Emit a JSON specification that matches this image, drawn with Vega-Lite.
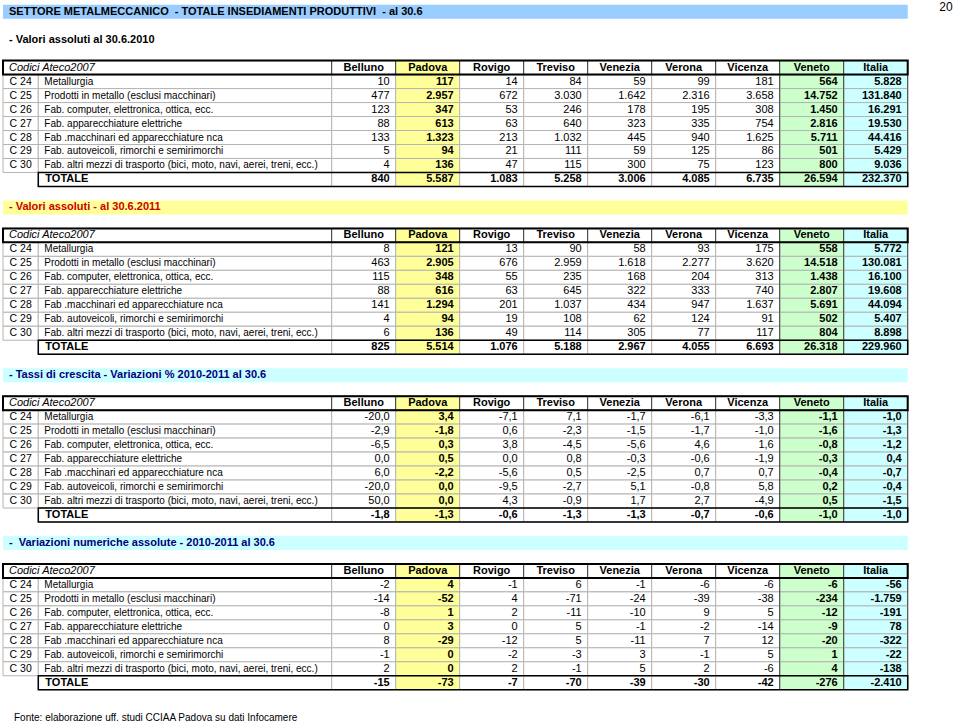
{
"$schema": "https://vega.github.io/schema/vega-lite/v6.json",
"width": 960, "height": 722,
"autosize": {"type": "none"},
"padding": 0,
"background": "#ffffff",
"config": {"font": "Liberation Sans", "view": {"stroke": null}, "locale": {"number": {"decimal": ",", "thousands": ".", "grouping": [3], "currency": ["€", ""], "minus": "-"}}},
"datasets": {
"fasce": [
{"riga": "titolo", "tipo": "titolo", "testo": "SETTORE METALMECCANICO \u00a0- TOTALE INSEDIAMENTI PRODUTTIVI \u00a0- al 30.6"},
{"riga": "s2010", "tipo": "s1", "testo": "- Valori assoluti al 30.6.2010"},
{"riga": "s2011", "tipo": "s2", "testo": "- Valori assoluti - al 30.6.2011"},
{"riga": "svarp", "tipo": "s3", "testo": "- Tassi di crescita - Variazioni % 2010-2011 al 30.6"},
{"riga": "svara", "tipo": "s3", "testo": "- \u00a0Variazioni numeriche assolute - 2010-2011 al 30.6"}
],
"note": [
{"riga": "titolo", "tipo": "pagina", "testo": "20"},
{"riga": "fonte", "tipo": "fonte", "testo": "Fonte: elaborazione uff. studi CCIAA Padova su dati Infocamere"}
],
"intestazioni": [
{"riga": "2010|H", "etichetta": "Codici Ateco2007", "colonna": ["Belluno","Padova","Rovigo","Treviso","Venezia","Verona","Vicenza","Veneto","Italia"]},
{"riga": "2011|H", "etichetta": "Codici Ateco2007", "colonna": ["Belluno","Padova","Rovigo","Treviso","Venezia","Verona","Vicenza","Veneto","Italia"]},
{"riga": "varp|H", "etichetta": "Codici Ateco2007", "colonna": ["Belluno","Padova","Rovigo","Treviso","Venezia","Verona","Vicenza","Veneto","Italia"]},
{"riga": "vara|H", "etichetta": "Codici Ateco2007", "colonna": ["Belluno","Padova","Rovigo","Treviso","Venezia","Verona","Vicenza","Veneto","Italia"]}
],
"tabelle": [
{"tabella":"2010","riga":"2010|C 24","codice":"C 24","descrizione":"Metallurgia","Belluno":10,"Padova":117,"Rovigo":14,"Treviso":84,"Venezia":59,"Verona":99,"Vicenza":181,"Veneto":564,"Italia":5828},
{"tabella":"2010","riga":"2010|C 25","codice":"C 25","descrizione":"Prodotti in metallo (esclusi macchinari)","Belluno":477,"Padova":2957,"Rovigo":672,"Treviso":3030,"Venezia":1642,"Verona":2316,"Vicenza":3658,"Veneto":14752,"Italia":131840},
{"tabella":"2010","riga":"2010|C 26","codice":"C 26","descrizione":"Fab. computer, elettronica, ottica, ecc.","Belluno":123,"Padova":347,"Rovigo":53,"Treviso":246,"Venezia":178,"Verona":195,"Vicenza":308,"Veneto":1450,"Italia":16291},
{"tabella":"2010","riga":"2010|C 27","codice":"C 27","descrizione":"Fab. apparecchiature elettriche","Belluno":88,"Padova":613,"Rovigo":63,"Treviso":640,"Venezia":323,"Verona":335,"Vicenza":754,"Veneto":2816,"Italia":19530},
{"tabella":"2010","riga":"2010|C 28","codice":"C 28","descrizione":"Fab .macchinari ed apparecchiature nca","Belluno":133,"Padova":1323,"Rovigo":213,"Treviso":1032,"Venezia":445,"Verona":940,"Vicenza":1625,"Veneto":5711,"Italia":44416},
{"tabella":"2010","riga":"2010|C 29","codice":"C 29","descrizione":"Fab. autoveicoli, rimorchi e semirimorchi","Belluno":5,"Padova":94,"Rovigo":21,"Treviso":111,"Venezia":59,"Verona":125,"Vicenza":86,"Veneto":501,"Italia":5429},
{"tabella":"2010","riga":"2010|C 30","codice":"C 30","descrizione":"Fab. altri mezzi di trasporto (bici, moto, navi, aerei, treni, ecc.)","Belluno":4,"Padova":136,"Rovigo":47,"Treviso":115,"Venezia":300,"Verona":75,"Vicenza":123,"Veneto":800,"Italia":9036},
{"tabella":"2010","riga":"2010|TOT","codice":null,"descrizione":"TOTALE","Belluno":840,"Padova":5587,"Rovigo":1083,"Treviso":5258,"Venezia":3006,"Verona":4085,"Vicenza":6735,"Veneto":26594,"Italia":232370},
{"tabella":"2011","riga":"2011|C 24","codice":"C 24","descrizione":"Metallurgia","Belluno":8,"Padova":121,"Rovigo":13,"Treviso":90,"Venezia":58,"Verona":93,"Vicenza":175,"Veneto":558,"Italia":5772},
{"tabella":"2011","riga":"2011|C 25","codice":"C 25","descrizione":"Prodotti in metallo (esclusi macchinari)","Belluno":463,"Padova":2905,"Rovigo":676,"Treviso":2959,"Venezia":1618,"Verona":2277,"Vicenza":3620,"Veneto":14518,"Italia":130081},
{"tabella":"2011","riga":"2011|C 26","codice":"C 26","descrizione":"Fab. computer, elettronica, ottica, ecc.","Belluno":115,"Padova":348,"Rovigo":55,"Treviso":235,"Venezia":168,"Verona":204,"Vicenza":313,"Veneto":1438,"Italia":16100},
{"tabella":"2011","riga":"2011|C 27","codice":"C 27","descrizione":"Fab. apparecchiature elettriche","Belluno":88,"Padova":616,"Rovigo":63,"Treviso":645,"Venezia":322,"Verona":333,"Vicenza":740,"Veneto":2807,"Italia":19608},
{"tabella":"2011","riga":"2011|C 28","codice":"C 28","descrizione":"Fab .macchinari ed apparecchiature nca","Belluno":141,"Padova":1294,"Rovigo":201,"Treviso":1037,"Venezia":434,"Verona":947,"Vicenza":1637,"Veneto":5691,"Italia":44094},
{"tabella":"2011","riga":"2011|C 29","codice":"C 29","descrizione":"Fab. autoveicoli, rimorchi e semirimorchi","Belluno":4,"Padova":94,"Rovigo":19,"Treviso":108,"Venezia":62,"Verona":124,"Vicenza":91,"Veneto":502,"Italia":5407},
{"tabella":"2011","riga":"2011|C 30","codice":"C 30","descrizione":"Fab. altri mezzi di trasporto (bici, moto, navi, aerei, treni, ecc.)","Belluno":6,"Padova":136,"Rovigo":49,"Treviso":114,"Venezia":305,"Verona":77,"Vicenza":117,"Veneto":804,"Italia":8898},
{"tabella":"2011","riga":"2011|TOT","codice":null,"descrizione":"TOTALE","Belluno":825,"Padova":5514,"Rovigo":1076,"Treviso":5188,"Venezia":2967,"Verona":4055,"Vicenza":6693,"Veneto":26318,"Italia":229960},
{"tabella":"varp","riga":"varp|C 24","codice":"C 24","descrizione":"Metallurgia","Belluno":-20.0,"Padova":3.4,"Rovigo":-7.1,"Treviso":7.1,"Venezia":-1.7,"Verona":-6.1,"Vicenza":-3.3,"Veneto":-1.1,"Italia":-1.0},
{"tabella":"varp","riga":"varp|C 25","codice":"C 25","descrizione":"Prodotti in metallo (esclusi macchinari)","Belluno":-2.9,"Padova":-1.8,"Rovigo":0.6,"Treviso":-2.3,"Venezia":-1.5,"Verona":-1.7,"Vicenza":-1.0,"Veneto":-1.6,"Italia":-1.3},
{"tabella":"varp","riga":"varp|C 26","codice":"C 26","descrizione":"Fab. computer, elettronica, ottica, ecc.","Belluno":-6.5,"Padova":0.3,"Rovigo":3.8,"Treviso":-4.5,"Venezia":-5.6,"Verona":4.6,"Vicenza":1.6,"Veneto":-0.8,"Italia":-1.2},
{"tabella":"varp","riga":"varp|C 27","codice":"C 27","descrizione":"Fab. apparecchiature elettriche","Belluno":0.0,"Padova":0.5,"Rovigo":0.0,"Treviso":0.8,"Venezia":-0.3,"Verona":-0.6,"Vicenza":-1.9,"Veneto":-0.3,"Italia":0.4},
{"tabella":"varp","riga":"varp|C 28","codice":"C 28","descrizione":"Fab .macchinari ed apparecchiature nca","Belluno":6.0,"Padova":-2.2,"Rovigo":-5.6,"Treviso":0.5,"Venezia":-2.5,"Verona":0.7,"Vicenza":0.7,"Veneto":-0.4,"Italia":-0.7},
{"tabella":"varp","riga":"varp|C 29","codice":"C 29","descrizione":"Fab. autoveicoli, rimorchi e semirimorchi","Belluno":-20.0,"Padova":0.0,"Rovigo":-9.5,"Treviso":-2.7,"Venezia":5.1,"Verona":-0.8,"Vicenza":5.8,"Veneto":0.2,"Italia":-0.4},
{"tabella":"varp","riga":"varp|C 30","codice":"C 30","descrizione":"Fab. altri mezzi di trasporto (bici, moto, navi, aerei, treni, ecc.)","Belluno":50.0,"Padova":0.0,"Rovigo":4.3,"Treviso":-0.9,"Venezia":1.7,"Verona":2.7,"Vicenza":-4.9,"Veneto":0.5,"Italia":-1.5},
{"tabella":"varp","riga":"varp|TOT","codice":null,"descrizione":"TOTALE","Belluno":-1.8,"Padova":-1.3,"Rovigo":-0.6,"Treviso":-1.3,"Venezia":-1.3,"Verona":-0.7,"Vicenza":-0.6,"Veneto":-1.0,"Italia":-1.0},
{"tabella":"vara","riga":"vara|C 24","codice":"C 24","descrizione":"Metallurgia","Belluno":-2,"Padova":4,"Rovigo":-1,"Treviso":6,"Venezia":-1,"Verona":-6,"Vicenza":-6,"Veneto":-6,"Italia":-56},
{"tabella":"vara","riga":"vara|C 25","codice":"C 25","descrizione":"Prodotti in metallo (esclusi macchinari)","Belluno":-14,"Padova":-52,"Rovigo":4,"Treviso":-71,"Venezia":-24,"Verona":-39,"Vicenza":-38,"Veneto":-234,"Italia":-1759},
{"tabella":"vara","riga":"vara|C 26","codice":"C 26","descrizione":"Fab. computer, elettronica, ottica, ecc.","Belluno":-8,"Padova":1,"Rovigo":2,"Treviso":-11,"Venezia":-10,"Verona":9,"Vicenza":5,"Veneto":-12,"Italia":-191},
{"tabella":"vara","riga":"vara|C 27","codice":"C 27","descrizione":"Fab. apparecchiature elettriche","Belluno":0,"Padova":3,"Rovigo":0,"Treviso":5,"Venezia":-1,"Verona":-2,"Vicenza":-14,"Veneto":-9,"Italia":78},
{"tabella":"vara","riga":"vara|C 28","codice":"C 28","descrizione":"Fab .macchinari ed apparecchiature nca","Belluno":8,"Padova":-29,"Rovigo":-12,"Treviso":5,"Venezia":-11,"Verona":7,"Vicenza":12,"Veneto":-20,"Italia":-322},
{"tabella":"vara","riga":"vara|C 29","codice":"C 29","descrizione":"Fab. autoveicoli, rimorchi e semirimorchi","Belluno":-1,"Padova":0,"Rovigo":-2,"Treviso":-3,"Venezia":3,"Verona":-1,"Vicenza":5,"Veneto":1,"Italia":-22},
{"tabella":"vara","riga":"vara|C 30","codice":"C 30","descrizione":"Fab. altri mezzi di trasporto (bici, moto, navi, aerei, treni, ecc.)","Belluno":2,"Padova":0,"Rovigo":2,"Treviso":-1,"Venezia":5,"Verona":2,"Vicenza":-6,"Veneto":4,"Italia":-138},
{"tabella":"vara","riga":"vara|TOT","codice":null,"descrizione":"TOTALE","Belluno":-15,"Padova":-73,"Rovigo":-7,"Treviso":-70,"Venezia":-39,"Verona":-30,"Vicenza":-42,"Veneto":-276,"Italia":-2410}
]
},
"encoding": {"y": {"field": "riga", "type": "nominal", "axis": null, "scale": {"domain": ["titolo","g1","s2010","g2","2010|H","2010|C 24","2010|C 25","2010|C 26","2010|C 27","2010|C 28","2010|C 29","2010|C 30","2010|TOT","g3","s2011","g4","2011|H","2011|C 24","2011|C 25","2011|C 26","2011|C 27","2011|C 28","2011|C 29","2011|C 30","2011|TOT","g5","svarp","g6","varp|H","varp|C 24","varp|C 25","varp|C 26","varp|C 27","varp|C 28","varp|C 29","varp|C 30","varp|TOT","g7","svara","g8","vara|H","vara|C 24","vara|C 25","vara|C 26","vara|C 27","vara|C 28","vara|C 29","vara|C 30","vara|TOT","g9","fonte"], "range": [4.7, 717.7], "paddingInner": 0, "paddingOuter": 0}}},
"layer": [
{"data": {"name": "fasce"}, "mark": {"type": "rect"},
 "encoding": {"x": {"datum": "Tabella", "type": "nominal", "axis": null, "scale": {"domain": ["Tabella"], "range": [3, 907.7], "paddingInner": 0, "paddingOuter": 0}},
  "fill": {"field": "tipo", "type": "nominal", "legend": null, "scale": {"domain": ["titolo","s1","s2","s3"], "range": ["#99ccff","#ffffff","#ffff99","#ccffff"]}}}},
{"data": {"name": "tabelle"}, "transform": [{"filter": "isValid(datum.codice)"}], "mark": {"type": "rect", "fill": "#ffffff", "stroke": "#b4b4b4", "strokeWidth": 1},
 "encoding": {"x": {"datum": "Codice", "type": "nominal", "axis": null, "scale": {"domain": ["Codice"], "range": [3, 38.3], "paddingInner": 0, "paddingOuter": 0}}}},
{"data": {"name": "tabelle"}, "mark": {"type": "rect", "fill": "#ffffff", "stroke": "#b4b4b4", "strokeWidth": 1},
 "encoding": {"x": {"datum": "Descrizione", "type": "nominal", "axis": null, "scale": {"domain": ["Descrizione"], "range": [38.3, 331.7], "paddingInner": 0, "paddingOuter": 0}}}},
{"data": {"name": "tabelle"}, "transform": [{"fold": ["Belluno","Padova","Rovigo","Treviso","Venezia","Verona","Vicenza","Veneto","Italia"], "as": ["colonna","valore"]}],
 "mark": {"type": "rect", "stroke": "#b4b4b4", "strokeWidth": 1},
 "encoding": {"x": {"field": "colonna", "type": "nominal", "axis": null, "scale": {"domain": ["Belluno","Padova","Rovigo","Treviso","Venezia","Verona","Vicenza","Veneto","Italia"], "range": [331.7, 907.7], "paddingInner": 0, "paddingOuter": 0}},
  "fill": {"field": "colonna", "type": "nominal", "legend": null, "scale": {"domain": ["Belluno","Padova","Rovigo","Treviso","Venezia","Verona","Vicenza","Veneto","Italia"], "range": ["#ffffff","#ffff99","#ffffff","#ffffff","#ffffff","#ffffff","#ffffff","#ccffcc","#ccffff"]}}}},
{"data": {"name": "intestazioni"}, "mark": {"type": "rect", "fill": "#ffffff", "stroke": "#404040", "strokeWidth": 1},
 "encoding": {"x": {"datum": "Etichetta", "type": "nominal", "axis": null, "scale": {"domain": ["Etichetta"], "range": [3, 331.7], "paddingInner": 0, "paddingOuter": 0}}}},
{"data": {"name": "intestazioni"}, "transform": [{"flatten": ["colonna"]}],
 "mark": {"type": "rect", "stroke": "#404040", "strokeWidth": 1},
 "encoding": {"x": {"field": "colonna", "type": "nominal", "axis": null, "scale": {"domain": ["Belluno","Padova","Rovigo","Treviso","Venezia","Verona","Vicenza","Veneto","Italia"], "range": [331.7, 907.7], "paddingInner": 0, "paddingOuter": 0}},
  "fill": {"field": "colonna", "type": "nominal", "legend": null, "scale": {"domain": ["Belluno","Padova","Rovigo","Treviso","Venezia","Verona","Vicenza","Veneto","Italia"], "range": ["#ffffff","#ffff99","#ffffff","#ffffff","#ffffff","#ffffff","#ffffff","#ccffcc","#ccffff"]}}}},
{"data": {"name": "tabelle"}, "transform": [{"fold": ["Belluno","Padova","Rovigo","Treviso","Venezia","Verona","Vicenza","Veneto","Italia"], "as": ["colonna","valore"]}, {"filter": "datum.colonna == 'Veneto' || datum.colonna == 'Italia'"}],
 "mark": {"type": "tick", "orient": "vertical", "thickness": 1, "size": 14, "color": "#404040", "opacity": 1},
 "encoding": {"x": {"field": "colonna", "type": "nominal", "axis": null, "scale": {"type": "point", "domain": ["Belluno","Padova","Rovigo","Treviso","Venezia","Verona","Vicenza","Veneto","Italia"], "range": [331.7, 843.7], "padding": 0}}}},
{"data": {"name": "tabelle"}, "transform": [{"fold": ["Belluno","Padova","Rovigo","Treviso","Venezia","Verona","Vicenza","Veneto","Italia"], "as": ["colonna","valore"]}, {"filter": "datum.colonna == 'Italia'"}],
 "mark": {"type": "tick", "orient": "vertical", "thickness": 1, "size": 14, "color": "#404040", "opacity": 1},
 "encoding": {"x": {"field": "colonna", "type": "nominal", "axis": null, "scale": {"type": "point", "domain": ["Belluno","Padova","Rovigo","Treviso","Venezia","Verona","Vicenza","Veneto","Italia"], "range": [395.7, 907.7], "padding": 0}}}},
{"data": {"name": "tabelle"}, "transform": [{"filter": "datum.descrizione == 'TOTALE'"}],
 "mark": {"type": "rect", "filled": false, "stroke": "#000000", "strokeWidth": 1.5},
 "encoding": {"x": {"datum": "Totale", "type": "nominal", "axis": null, "scale": {"domain": ["Totale"], "range": [38.3, 907.7], "paddingInner": 0, "paddingOuter": 0}}}},
{"data": {"name": "intestazioni"}, "mark": {"type": "rect", "filled": false, "stroke": "#000000", "strokeWidth": 2},
 "encoding": {"x": {"datum": "Tabella", "type": "nominal", "axis": null, "scale": {"domain": ["Tabella"], "range": [3, 907.7], "paddingInner": 0, "paddingOuter": 0}}}},
{"data": {"name": "fasce"}, "mark": {"type": "text", "align": "left", "baseline": "middle", "dx": 6, "fontSize": 11, "fontWeight": "bold"},
 "encoding": {"x": {"datum": "Tabella", "type": "nominal", "axis": null, "scale": {"type": "point", "domain": ["Tabella"], "range": [3, 907.7], "padding": 0, "align": 0}},
  "text": {"field": "testo"},
  "color": {"field": "tipo", "type": "nominal", "legend": null, "scale": {"domain": ["titolo","s1","s2","s3"], "range": ["#000000","#000000","#cc0000","#000080"]}}}},
{"data": {"name": "tabelle"}, "transform": [{"filter": "isValid(datum.codice)"}], "mark": {"type": "text", "align": "center", "baseline": "middle", "fontSize": 10.5, "color": "#000000"},
 "encoding": {"x": {"datum": "Codice", "type": "nominal", "axis": null, "scale": {"domain": ["Codice"], "range": [3, 38.3], "paddingInner": 0, "paddingOuter": 0}}, "text": {"field": "codice"}}},
{"data": {"name": "tabelle"}, "transform": [{"filter": "datum.descrizione != 'TOTALE'"}], "mark": {"type": "text", "align": "left", "baseline": "middle", "dx": 6, "fontSize": 10, "color": "#000000"},
 "encoding": {"x": {"datum": "Descrizione", "type": "nominal", "axis": null, "scale": {"type": "point", "domain": ["Descrizione"], "range": [38.3, 331.7], "padding": 0, "align": 0}}, "text": {"field": "descrizione"}}},
{"data": {"name": "tabelle"}, "transform": [{"filter": "datum.descrizione == 'TOTALE'"}], "mark": {"type": "text", "align": "left", "baseline": "middle", "dx": 7, "fontSize": 11, "fontWeight": "bold", "color": "#000000"},
 "encoding": {"x": {"datum": "Descrizione", "type": "nominal", "axis": null, "scale": {"type": "point", "domain": ["Descrizione"], "range": [38.3, 331.7], "padding": 0, "align": 0}}, "text": {"field": "descrizione"}}},
{"data": {"name": "intestazioni"}, "mark": {"type": "text", "align": "left", "baseline": "middle", "dx": 6, "fontSize": 11, "fontStyle": "italic", "color": "#000000"},
 "encoding": {"x": {"datum": "Etichetta", "type": "nominal", "axis": null, "scale": {"type": "point", "domain": ["Etichetta"], "range": [3, 331.7], "padding": 0, "align": 0}}, "text": {"field": "etichetta"}}},
{"data": {"name": "intestazioni"}, "transform": [{"flatten": ["colonna"]}], "mark": {"type": "text", "align": "center", "baseline": "middle", "fontSize": 11, "fontWeight": "bold", "color": "#000000"},
 "encoding": {"x": {"field": "colonna", "type": "nominal", "axis": null, "scale": {"domain": ["Belluno","Padova","Rovigo","Treviso","Venezia","Verona","Vicenza","Veneto","Italia"], "range": [331.7, 907.7], "paddingInner": 0, "paddingOuter": 0}}, "text": {"field": "colonna"}}},
{"data": {"name": "tabelle"}, "transform": [{"filter": "datum.tabella != 'varp'"}, {"fold": ["Belluno","Padova","Rovigo","Treviso","Venezia","Verona","Vicenza","Veneto","Italia"], "as": ["colonna","valore"]}, {"filter": "indexof(['Padova','Veneto','Italia'], datum.colonna) < 0 && datum.descrizione != 'TOTALE'"}],
 "mark": {"type": "text", "align": "right", "baseline": "middle", "fontSize": 11, "color": "#000000"},
 "encoding": {"x": {"field": "colonna", "type": "nominal", "axis": null, "scale": {"type": "point", "domain": ["Belluno","Padova","Rovigo","Treviso","Venezia","Verona","Vicenza","Veneto","Italia"], "range": [389.7, 901.7], "padding": 0}}, "text": {"field": "valore", "type": "quantitative", "format": ",d"}}},
{"data": {"name": "tabelle"}, "transform": [{"filter": "datum.tabella != 'varp'"}, {"fold": ["Belluno","Padova","Rovigo","Treviso","Venezia","Verona","Vicenza","Veneto","Italia"], "as": ["colonna","valore"]}, {"filter": "indexof(['Padova','Veneto','Italia'], datum.colonna) >= 0 || datum.descrizione == 'TOTALE'"}],
 "mark": {"type": "text", "align": "right", "baseline": "middle", "fontSize": 11, "fontWeight": "bold", "color": "#000000"},
 "encoding": {"x": {"field": "colonna", "type": "nominal", "axis": null, "scale": {"type": "point", "domain": ["Belluno","Padova","Rovigo","Treviso","Venezia","Verona","Vicenza","Veneto","Italia"], "range": [389.7, 901.7], "padding": 0}}, "text": {"field": "valore", "type": "quantitative", "format": ",d"}}},
{"data": {"name": "tabelle"}, "transform": [{"filter": "datum.tabella == 'varp'"}, {"fold": ["Belluno","Padova","Rovigo","Treviso","Venezia","Verona","Vicenza","Veneto","Italia"], "as": ["colonna","valore"]}, {"filter": "indexof(['Padova','Veneto','Italia'], datum.colonna) < 0 && datum.descrizione != 'TOTALE'"}],
 "mark": {"type": "text", "align": "right", "baseline": "middle", "fontSize": 11, "color": "#000000"},
 "encoding": {"x": {"field": "colonna", "type": "nominal", "axis": null, "scale": {"type": "point", "domain": ["Belluno","Padova","Rovigo","Treviso","Venezia","Verona","Vicenza","Veneto","Italia"], "range": [389.7, 901.7], "padding": 0}}, "text": {"field": "valore", "type": "quantitative", "format": ",.1f"}}},
{"data": {"name": "tabelle"}, "transform": [{"filter": "datum.tabella == 'varp'"}, {"fold": ["Belluno","Padova","Rovigo","Treviso","Venezia","Verona","Vicenza","Veneto","Italia"], "as": ["colonna","valore"]}, {"filter": "indexof(['Padova','Veneto','Italia'], datum.colonna) >= 0 || datum.descrizione == 'TOTALE'"}],
 "mark": {"type": "text", "align": "right", "baseline": "middle", "fontSize": 11, "fontWeight": "bold", "color": "#000000"},
 "encoding": {"x": {"field": "colonna", "type": "nominal", "axis": null, "scale": {"type": "point", "domain": ["Belluno","Padova","Rovigo","Treviso","Venezia","Verona","Vicenza","Veneto","Italia"], "range": [389.7, 901.7], "padding": 0}}, "text": {"field": "valore", "type": "quantitative", "format": ",.1f"}}},
{"data": {"name": "note"}, "transform": [{"filter": "datum.tipo == 'pagina'"}], "mark": {"type": "text", "align": "center", "baseline": "middle", "fontSize": 12, "color": "#000000"},
 "encoding": {"x": {"datum": "Pagina", "type": "nominal", "axis": null, "scale": {"domain": ["Pagina"], "range": [932, 960], "paddingInner": 0, "paddingOuter": 0}},
  "y": {"field": "riga", "type": "nominal", "bandPosition": 0.15, "axis": null},
  "text": {"field": "testo"}}},
{"data": {"name": "note"}, "transform": [{"filter": "datum.tipo == 'fonte'"}], "mark": {"type": "text", "align": "left", "baseline": "middle", "dx": 11, "fontSize": 10, "color": "#000000"},
 "encoding": {"x": {"datum": "Tabella", "type": "nominal", "axis": null, "scale": {"type": "point", "domain": ["Tabella"], "range": [3, 907.7], "padding": 0, "align": 0}},
  "y": {"field": "riga", "type": "nominal", "bandPosition": 1, "axis": null},
  "text": {"field": "testo"}}}
],
"resolve": {"scale": {"x": "independent", "fill": "independent", "color": "independent"}}
}
